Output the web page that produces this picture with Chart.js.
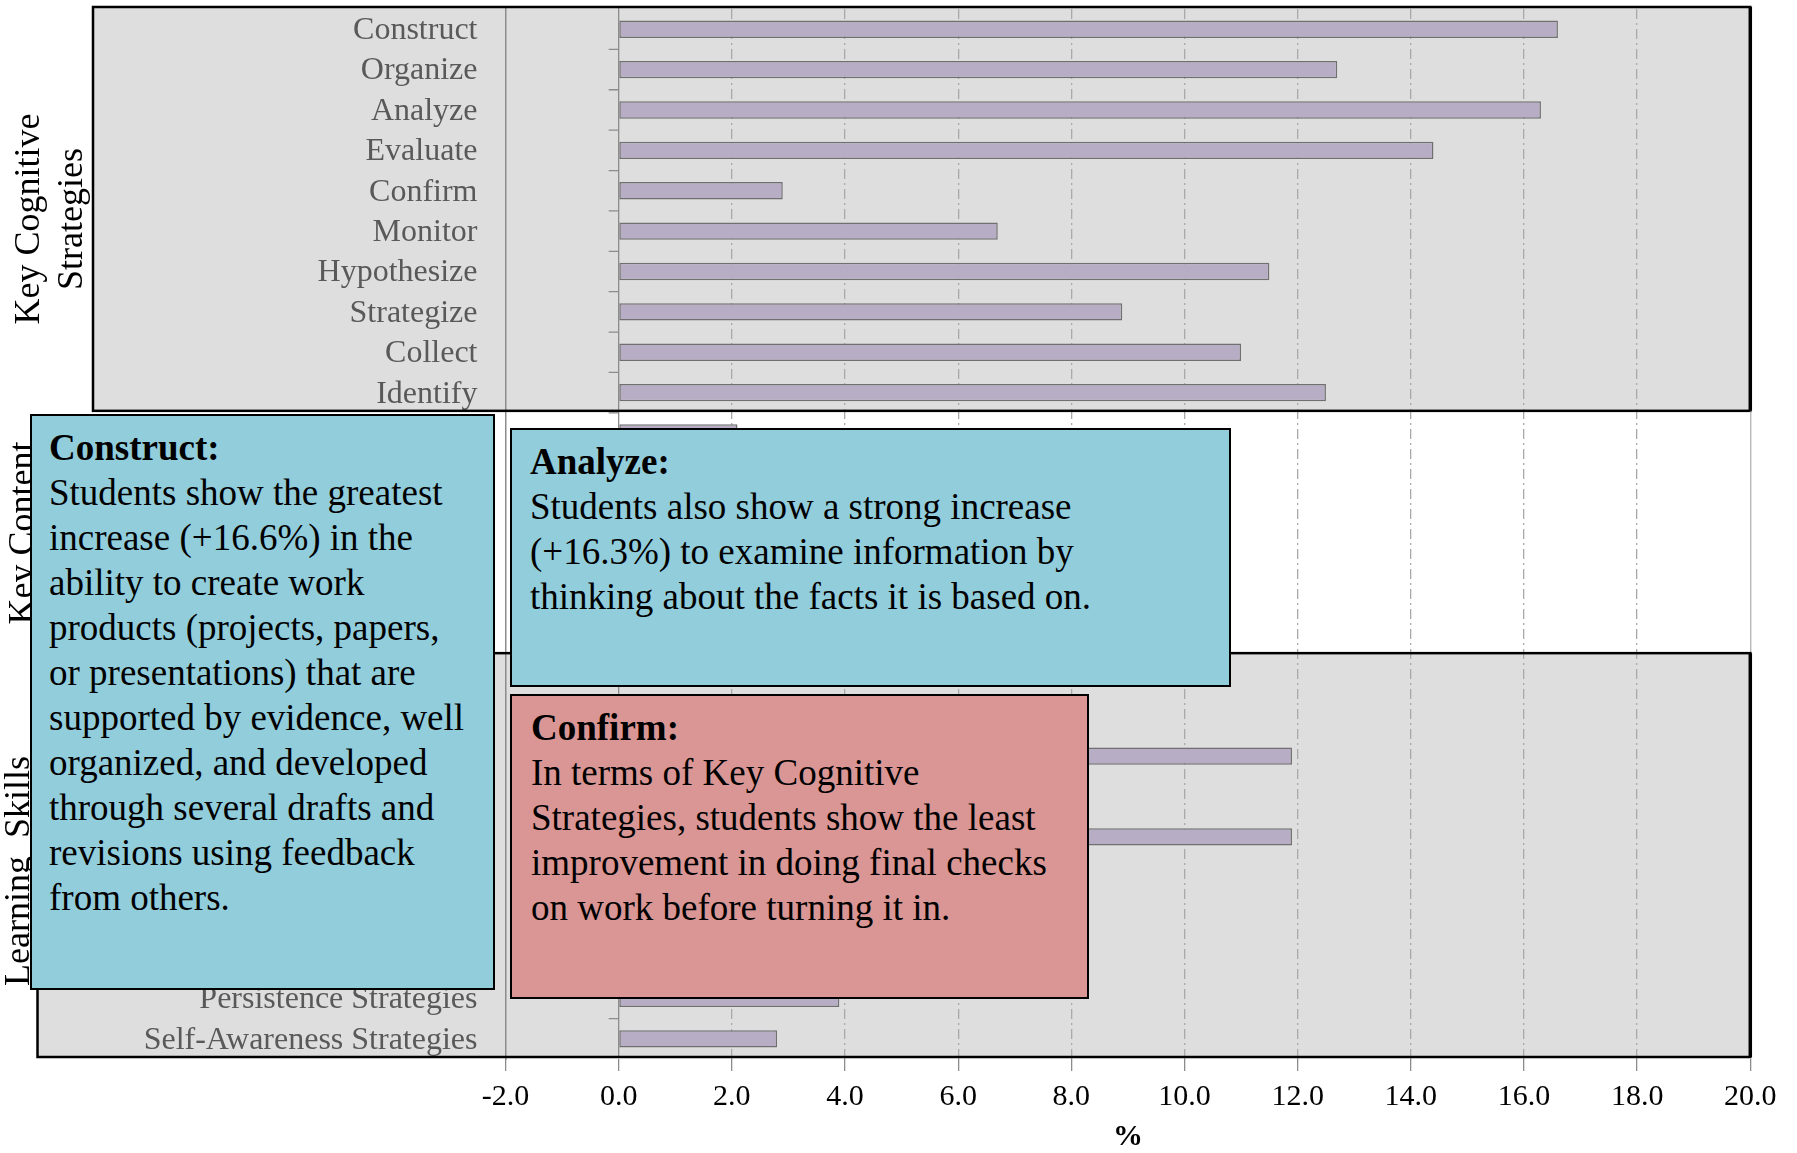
<!DOCTYPE html>
<html lang="en">
<head>
  <meta charset="UTF-8">
  <title>Change in student ratings by strategy</title>
  <script src="https://cdn.jsdelivr.net/npm/chart.js"></script>
  <style>
    body {
      margin: 0;
      background: #ffffff;
    }

    .wrap {
      position: relative;
      width: 1797px;
      height: 1153px;
    }

    #chart {
      position: absolute;
      left: 0;
      top: 0;
    }

    /* call-out boxes laid over the chart */
    .note {
      position: absolute;
      box-sizing: border-box;
      border: 2px solid #000;
    }
    .note.blue { background: #92cddc; }
    .note.red { background: #d99694; }

    .note-text {
      position: absolute;
      font-family: 'Liberation Serif', 'Times New Roman', serif;
      font-size: 37px;
      line-height: 45px;
      color: #000;
      white-space: nowrap;
    }
  </style>
</head>
<body>
  <div class="wrap">
    <canvas id="chart" width="1797" height="1153"></canvas>

    <div class="note blue" style="left:30px; top:414px; width:465px; height:576px;"></div>
    <div class="note-text" style="left:49px; top:425px;">
      <b>Construct:</b><br>
      Students show the greatest<br>
      increase (+16.6%) in the<br>
      ability to create work<br>
      products (projects, papers,<br>
      or presentations) that are<br>
      supported by evidence, well<br>
      organized, and developed<br>
      through several drafts and<br>
      revisions using feedback<br>
      from others.
    </div>

    <div class="note blue" style="left:510px; top:428px; width:721px; height:259px;"></div>
    <div class="note-text" style="left:530px; top:439px;">
      <b>Analyze:</b><br>
      Students also show a strong increase<br>
      (+16.3%) to examine information by<br>
      thinking about the facts it is based on.
    </div>

    <div class="note red" style="left:510px; top:694px; width:579px; height:305px;"></div>
    <div class="note-text" style="left:531px; top:705px;">
      <b>Confirm:</b><br>
      In terms of Key Cognitive<br>
      Strategies, students show the least<br>
      improvement in doing final checks<br>
      on work before turning it in.
    </div>
  </div>

  <script>
    // categories and values (% change), top to bottom
    const cognitiveLabels = ['Construct', 'Organize', 'Analyze', 'Evaluate', 'Confirm',
      'Monitor', 'Hypothesize', 'Strategize', 'Collect', 'Identify'];
    const cognitiveValues = [16.6, 12.7, 16.3, 14.4, 2.9, 6.7, 11.5, 8.9, 11.0, 12.5];

    // mostly hidden behind the call-outs in the original
    const contentLabels = ['Challenge Level', 'Structure of Knowledge', 'Technology',
      'Value', 'Attribution', 'Effort'];
    const contentValues = [2.1, 6.4, 5.2, 7.8, 4.5, 6.9];

    const learningLabels = ['Goal-Setting Strategies', 'Time Management Strategies',
      'Help-Seeking Strategies', 'Test-Taking Strategies', 'Collaborative Learning',
      'Note-Taking Strategies', 'Memorization Strategies', 'Strategic Reading',
      'Persistence Strategies', 'Self-Awareness Strategies'];
    const learningValues = [9.6, 6.8, 11.9, 5.4, 11.9, 4.7, 6.1, 7.2, 3.9, 2.8];

    const groupTitles = [['Key Cognitive', 'Strategies'], ['Key Content'], ['Learning  Skills']];

    const xMin = -2;
    const xMax = 20;
    const xStep = 2;

    const labels = cognitiveLabels.concat(contentLabels, learningLabels);
    const values = cognitiveValues.concat(contentValues, learningValues);

    const serif = "'Liberation Serif', 'Times New Roman', serif";

    // group bands: category range, left edge of the box, fill
    const groups = [
      { from: 0, to: cognitiveLabels.length, left: 93, fill: '#dedede', boxed: true,
        title: groupTitles[0], lines: [39, 82], cy: 219 },
      { from: cognitiveLabels.length, to: cognitiveLabels.length + contentLabels.length,
        left: 93, fill: '#ffffff', boxed: false, title: groupTitles[1], lines: [33], cy: 533 },
      { from: cognitiveLabels.length + contentLabels.length, to: labels.length, left: 37.5,
        fill: '#dedede', boxed: true, title: groupTitles[2], lines: [29], cy: 871 }
    ];

    // the bands sit a couple of pixels above the category slots in the original
    const bandShift = -2;

    function catEdge(y, i) {
      const pitch = y.getPixelForValue(1) - y.getPixelForValue(0);
      return y.getPixelForValue(i) - pitch / 2;
    }

    const groupPlugin = {
      id: 'groups',
      beforeDraw(chart) {
        const { ctx, chartArea: ca, scales: { y } } = chart;
        ctx.save();
        groups.forEach(g => {
          const top = catEdge(y, g.from) + bandShift;
          const bottom = catEdge(y, g.to) + bandShift;
          ctx.fillStyle = g.fill;
          ctx.fillRect(g.left, top, ca.right - g.left, bottom - top);
        });
        ctx.restore();
      },
      beforeDatasetsDraw(chart) {
        // category axis at 0 with small outward ticks
        const { ctx, chartArea: ca, scales: { x, y } } = chart;
        const x0 = x.getPixelForValue(0);
        ctx.save();
        ctx.strokeStyle = '#8c8c8c';
        ctx.lineWidth = 1.3;
        ctx.beginPath();
        ctx.moveTo(x0, ca.top + bandShift);
        ctx.lineTo(x0, ca.bottom + bandShift);
        for (let i = 1; i < labels.length; i++) {
          const yy = catEdge(y, i);
          ctx.moveTo(x0 - 10, yy);
          ctx.lineTo(x0, yy);
        }
        ctx.stroke();
        ctx.restore();
      },
      afterDraw(chart) {
        const { ctx, chartArea: ca, scales: { y } } = chart;
        ctx.save();
        groups.forEach(g => {
          const top = catEdge(y, g.from) + bandShift;
          const bottom = catEdge(y, g.to) + bandShift;
          if (g.boxed) {
            ctx.strokeStyle = '#000';
            ctx.lineWidth = 2.5;
            ctx.strokeRect(g.left, top, ca.right - g.left, bottom - top);
            ctx.lineWidth = 3.5;
            ctx.beginPath();
            ctx.moveTo(ca.right, top);
            ctx.lineTo(ca.right, bottom);
            ctx.stroke();
          } else {
            ctx.strokeStyle = '#9a9a9a';
            ctx.lineWidth = 1;
            ctx.beginPath();
            ctx.moveTo(ca.right + 0.5, top);
            ctx.lineTo(ca.right + 0.5, bottom);
            ctx.stroke();
          }
          // rotated group title
          ctx.fillStyle = '#000';
          ctx.font = '36px ' + serif;
          ctx.textAlign = 'center';
          ctx.textBaseline = 'alphabetic';
          g.title.forEach((line, k) => {
            ctx.save();
            ctx.translate(g.lines[k], g.cy);
            ctx.rotate(-Math.PI / 2);
            ctx.fillText(line, 0, 0);
            ctx.restore();
          });
        });
        ctx.restore();
      }
    };

    new Chart(document.getElementById('chart'), {
      type: 'bar',
      data: {
        labels: labels,
        datasets: [{
          data: values,
          backgroundColor: '#b7aec5',
          borderColor: '#707070',
          borderWidth: 1.5,
          borderSkipped: false,
          barPercentage: 0.43,
          categoryPercentage: 1
        }]
      },
      options: {
        indexAxis: 'y',
        responsive: false,
        animation: false,
        layout: { padding: { top: 9, right: 46.7, left: 0, bottom: 0 } },
        plugins: {
          legend: { display: false },
          tooltip: { enabled: false }
        },
        scales: {
          y: {
            type: 'category',
            afterFit: s => {
              s.width = 505.5;
              s.paddingTop = 0;
              s.paddingBottom = 0;
            },
            grid: { display: false, drawTicks: false, tickLength: 0 },
            border: { display: true, color: '#8c8c8c', width: 1.5 },
            ticks: {
              autoSkip: false,
              padding: 28,
              labelOffset: 1.5,
              color: '#595959',
              font: { family: serif, size: 32 }
            }
          },
          x: {
            min: xMin,
            max: xMax,
            afterFit: s => { s.height = 94; },
            afterBuildTicks: s => {
              s.ticks = [];
              for (let v = xMin; v <= xMax; v += xStep) s.ticks.push({ value: v });
            },
            grid: {
              color: c => (c.tick && [xMin, 0, xMax].includes(c.tick.value)) ? 'rgba(0,0,0,0)' : '#a9a9a9',
              lineWidth: 1.3,
              tickLength: 12,
              tickColor: '#8c8c8c',
              tickWidth: 1.3,
              tickBorderDash: []
            },
            border: { display: false, dash: [10, 4, 2, 4] },
            ticks: {
              padding: 8,
              color: '#000',
              font: { family: serif, size: 30 },
              callback: v => Number(v).toFixed(1)
            },
            title: {
              display: true,
              text: '%',
              color: '#000',
              font: { family: serif, size: 30, weight: 'bold', lineHeight: 1 },
              padding: { top: 0, bottom: 1 }
            }
          }
        }
      },
      plugins: [groupPlugin]
    });
  </script>
</body>
</html>
